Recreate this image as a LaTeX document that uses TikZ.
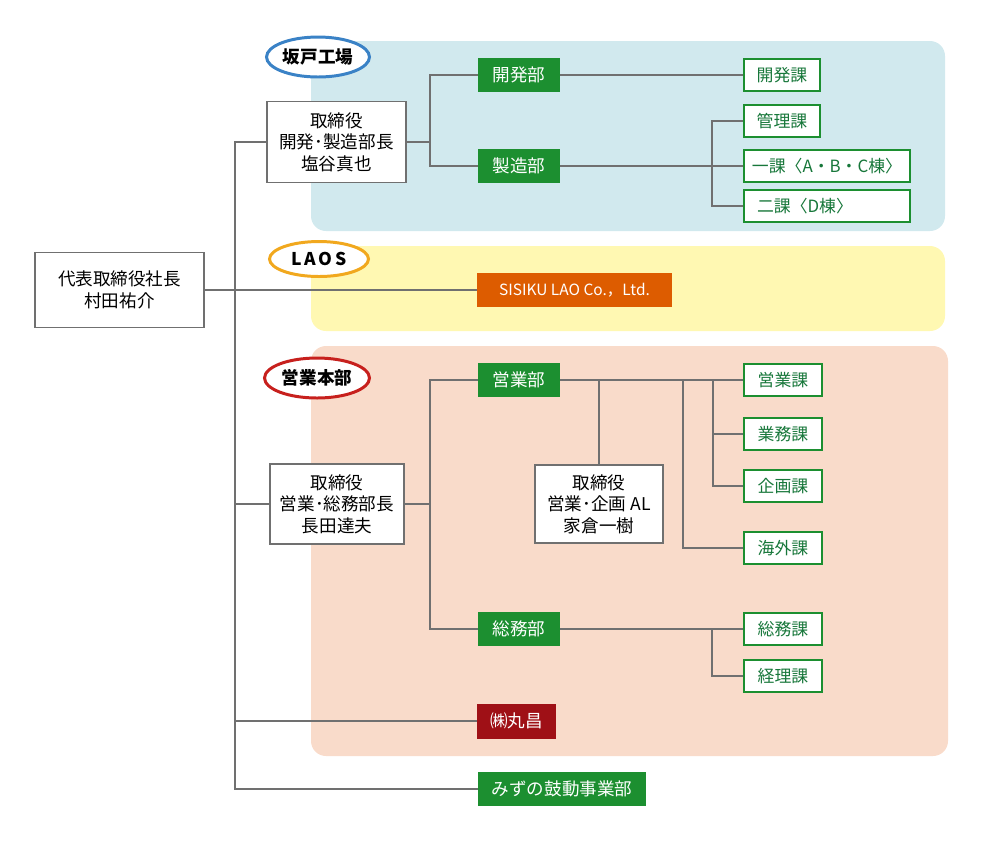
\documentclass[tikz,border=0pt]{standalone}
\usepackage{fontspec}
\setmainfont{Noto Sans CJK JP}
\usetikzlibrary{shapes.geometric}
\definecolor{linegray}{HTML}{707070}
\definecolor{bugreen}{HTML}{1C8F30}
\definecolor{katext}{HTML}{17773A}
\definecolor{panelblue}{HTML}{D1E9EE}
\definecolor{panelyellow}{HTML}{FFF8B2}
\definecolor{panelpink}{HTML}{F9DBCA}
\definecolor{laoorange}{HTML}{DD5C00}
\definecolor{marured}{HTML}{9F1016}
\definecolor{tagblue}{HTML}{3A82C6}
\definecolor{tagorange}{HTML}{F1A81E}
\definecolor{tagred}{HTML}{C7201D}
\tikzset{
	every node/.style={font=\fontsize{10pt}{12.2pt}\selectfont, inner sep=0pt},
	chiefbox/.style={draw=linegray, line width=1.1pt, fill=white, align=center},
	bubox/.style={fill=bugreen, text=white, minimum width=1.64cm, minimum height=0.68cm},
	kabox/.style={draw=bugreen, line width=1.1pt, fill=white, text=katext, minimum width=1.52cm, minimum height=0.64cm, font=\fontsize{9.6pt}{11pt}\selectfont},
	tag/.style={ellipse, draw, line width=1.7pt, fill=white, font=\fontsize{10pt}{11pt}\selectfont\bfseries},
	wire/.style={draw=linegray, line width=1.1pt},
	panel/.style={rounded corners=0.3cm}
}

\begin{document}
\begin{tikzpicture}[x=0.02cm, y=-0.02cm]
			%%%%% START %%%%%
			\useasboundingbox (0, 0) rectangle (1000, 850);
			
			\fill[panel, panelblue] (311, 41) rectangle (945, 231);
			\fill[panel, panelyellow] (311, 246) rectangle (945, 331);
			\fill[panel, panelpink] (311, 346) rectangle (948, 756);
			
			\node[tag, draw=tagblue, minimum width=2.06cm, minimum height=0.8cm] (sakado) at (318, 57) {坂戸工場};
			\node[tag, draw=tagorange, minimum width=1.98cm, minimum height=0.7cm] (laos) at (319, 259) {L\,A\,O\,S};
			\node[tag, draw=tagred, minimum width=2.1cm, minimum height=0.8cm] (honbu) at (317, 378) {営業本部};
			
			\node[chiefbox, minimum width=3.38cm, minimum height=1.5cm] (pres) at (119.5, 290) {代表取締役社長\\村田祐介};
			
			% sakado
			\node[chiefbox, minimum width=2.78cm, minimum height=1.62cm] (chiefK) at (336.5, 142) {取締役\\開発･製造部長\\塩谷真也};
			\node[bubox] (kaihatsu) at (519, 75) {開発部};
			\node[bubox] (seizou) at (519, 166) {製造部};
			\node[kabox] (kaihatsuka) at (782, 75) {開発課};
			\node[kabox] (kanrika) at (782, 121) {管理課};
			\node[kabox, minimum width=3.32cm] (ikka) at (827, 166) {一課〈A・B・C棟〉};
			\node[kabox, minimum width=3.32cm, text width=2.8cm] (nika) at (827, 206) {二課〈D棟〉};
			
			% laos
			\node[fill=laoorange, text=white, minimum width=3.9cm, minimum height=0.68cm, font=\fontsize{8.8pt}{10pt}\selectfont] (laoCo) at (574.5, 290) {SISIKU LAO Co.，Ltd.};
			
			% eigyo
			\node[chiefbox, minimum width=2.68cm, minimum height=1.6cm] (chiefE) at (337, 504) {取締役\\営業･総務部長\\長田達夫};
			\node[bubox] (eigyo) at (519, 380) {営業部};
			\node[bubox] (soumu) at (519, 629) {総務部};
			\node[chiefbox, minimum width=2.56cm, minimum height=1.56cm] (chiefAL) at (599, 504) {取締役\\営業･企画 AL\\家倉一樹};
			\node[kabox, minimum width=1.56cm] (eigyoka) at (783, 380) {営業課};
			\node[kabox, minimum width=1.56cm] (gyoumuka) at (783, 434) {業務課};
			\node[kabox, minimum width=1.56cm] (kikakuka) at (783, 486) {企画課};
			\node[kabox, minimum width=1.56cm] (kaigaika) at (783, 548) {海外課};
			\node[kabox, minimum width=1.56cm] (soumuka) at (783, 629) {総務課};
			\node[kabox, minimum width=1.56cm] (keirika) at (783, 676) {経理課};
			
			\node[fill=marured, text=white, minimum width=1.58cm, minimum height=0.7cm] (maru) at (516.5, 721) {㈱丸昌};
			\node[bubox, minimum width=3.36cm] (mizuno) at (562, 789) {みずの鼓動事業部};
			
			% trunk
			\coordinate (trunk) at (235, 142);
			\draw[wire] (chiefK.west) -- (trunk) |- (mizuno.west);
			\draw[wire] (trunk |- chiefE.west) -- (chiefE.west);
			\draw[wire] (trunk |- maru.west) -- (maru.west);
			\draw[wire] (pres.east) -- (laoCo.west);
			
			% sakado wires
			\coordinate (busK) at (430, 142);
			\draw[wire] (chiefK.east) -- (busK);
			\draw[wire] (kaihatsu.west) -| (busK) |- (seizou.west);
			\draw[wire] (kaihatsu.east) -- (kaihatsuka.west);
			\draw[wire] (seizou.east) -- (ikka.west);
			\draw[wire] (kanrika.west) -- ++(-31, 0) |- (nika.west);
			
			% eigyo wires
			\coordinate (busE) at (430, 504);
			\draw[wire] (chiefE.east) -- (busE);
			\draw[wire] (eigyo.west) -| (busE) |- (soumu.west);
			\draw[wire] (eigyo.east) -- (eigyoka.west);
			\draw[wire] (eigyo.east -| chiefAL.north) -- (chiefAL.north);
			\coordinate (busKa) at (683, 380);
			\draw[wire] (busKa) |- (kaigaika.west);
			\coordinate (busKb) at (713, 380);
			\draw[wire] (busKb) |- (kikakuka.west);
			\draw[wire] (busKb |- gyoumuka.west) -- (gyoumuka.west);
			\draw[wire] (soumu.east) -- (soumuka.west);
			\draw[wire] (soumuka.west) -- ++(-31, 0) |- (keirika.west);
			
			%%%%% END %%%%%
\end{tikzpicture}
\end{document}
